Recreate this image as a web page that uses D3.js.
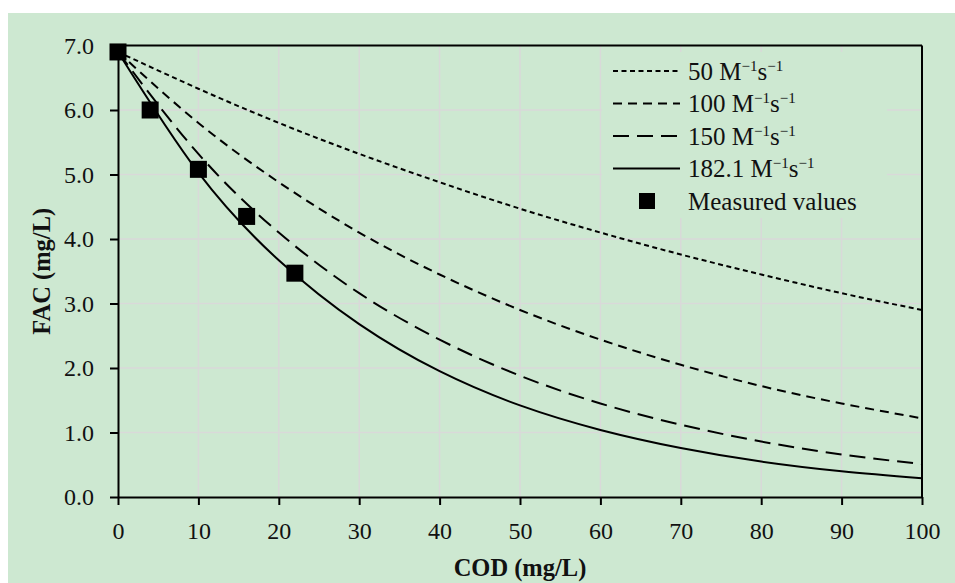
<!DOCTYPE html>
<html>
<head>
<meta charset="utf-8">
<script src="https://cdn.jsdelivr.net/npm/d3@7"></script>
<style>
  body { margin: 0; background: #fff; }
  svg { display: block; }
</style>
</head>
<body>
<div id="chart"></div>
<script>
// values
const cod = [0, 10, 20, 30, 40, 50, 60, 70, 80, 90, 100];
const fac50 = [6.90, 6.33, 5.80, 5.32, 4.88, 4.47, 4.10, 3.76, 3.45, 3.16, 2.90];
const fac100 = [6.90, 5.80, 4.88, 4.10, 3.45, 2.90, 2.44, 2.05, 1.72, 1.45, 1.22];
const fac150 = [6.90, 5.32, 4.10, 3.16, 2.44, 1.88, 1.45, 1.12, 0.86, 0.66, 0.51];
const fac182 = [6.90, 5.03, 3.67, 2.68, 1.95, 1.42, 1.04, 0.76, 0.55, 0.40, 0.29];
const seriesRates = ['50', '100', '150', '182.1'];

const measuredCod = [0, 4, 10, 16, 22];
const measuredFac = [6.90, 6.00, 5.08, 4.35, 3.47];

const xTicks = [0, 10, 20, 30, 40, 50, 60, 70, 80, 90, 100];
const yTicks = [0, 1, 2, 3, 4, 5, 6, 7];

const W = 955, H = 583;
const margin = { top: 45.5, right: 33, bottom: 86, left: 118 };
const width = W - margin.left - margin.right;
const height = H - margin.top - margin.bottom;
const font = "'Palatino Linotype', 'Book Antiqua', Palatino, 'Liberation Serif', serif";
const bg = '#cde8d1';

const svg = d3.select('#chart').append('svg')
  .attr('width', W)
  .attr('height', H);

svg.append('rect')
  .attr('x', 8).attr('y', 13)
  .attr('width', W - 8).attr('height', H - 13)
  .attr('fill', bg);

const g = svg.append('g').attr('transform', 'translate(' + margin.left + ',' + margin.top + ')');

const x = d3.scaleLinear().domain([0, 100]).range([0, width]);
const y = d3.scaleLinear().domain([0, 7]).range([height, 0]);

// grid
g.append('g').selectAll('line')
  .data(xTicks.slice(1, -1))
  .enter().append('line')
  .attr('x1', d => x(d)).attr('x2', d => x(d))
  .attr('y1', 0).attr('y2', height)
  .attr('stroke', '#d9d9d9').attr('stroke-width', 1.5);
g.append('g').selectAll('line')
  .data(yTicks.slice(1, -1))
  .enter().append('line')
  .attr('x1', 0).attr('x2', width)
  .attr('y1', d => y(d)).attr('y2', d => y(d))
  .attr('stroke', '#d9d9d9').attr('stroke-width', 1.5);

// model curves
const dashes = ['5,3.5', '9,6', '16,8', null];
const seriesValues = [fac50, fac100, fac150, fac182];
const line = d3.line()
  .x(d => x(d[0]))
  .y(d => y(d[1]))
  .curve(d3.curveNatural);

seriesValues.forEach(function(vals, i) {
  g.append('path')
    .datum(cod.map((c, j) => [c, vals[j]]))
    .attr('d', line)
    .attr('fill', 'none')
    .attr('stroke', '#000')
    .attr('stroke-width', 2)
    .attr('stroke-dasharray', dashes[i]);
});

// frame (top and right)
g.append('line').attr('x1', 0).attr('x2', width).attr('y1', 0).attr('y2', 0)
  .attr('stroke', '#000').attr('stroke-width', 2);
g.append('line').attr('x1', width).attr('x2', width).attr('y1', 0).attr('y2', height)
  .attr('stroke', '#000').attr('stroke-width', 2);

// axes
const xAxis = g.append('g')
  .attr('transform', 'translate(0,' + height + ')')
  .call(d3.axisBottom(x).tickValues(xTicks).tickSize(8).tickPadding(17).tickSizeOuter(0));
const yAxis = g.append('g')
  .call(d3.axisLeft(y).tickValues(yTicks).tickFormat(d3.format('.1f')).tickSize(8).tickPadding(16).tickSizeOuter(0));

[xAxis, yAxis].forEach(function(ax) {
  ax.attr('font-family', font).attr('font-size', 24);
  ax.select('.domain').attr('stroke-width', 2);
  ax.selectAll('.tick line').attr('stroke-width', 2);
  ax.selectAll('.tick text').attr('fill', '#111');
});

// legend
const legend = g.append('g').attr('transform', 'translate(' + (602 - margin.left) + ',' + (52 - margin.top) + ')');
legend.append('rect')
  .attr('width', 285).attr('height', 166)
  .attr('fill', bg);

const rowY = i => 19 + i * 32.5;
seriesRates.forEach(function(rate, i) {
  legend.append('line')
    .attr('x1', 11).attr('x2', 78)
    .attr('y1', rowY(i)).attr('y2', rowY(i))
    .attr('stroke', '#000').attr('stroke-width', 2)
    .attr('stroke-dasharray', dashes[i]);
  const t = legend.append('text')
    .attr('x', 86).attr('y', rowY(i) + 8.5)
    .attr('font-family', font).attr('font-size', 25).attr('fill', '#111');
  t.append('tspan').text(rate + ' M');
  t.append('tspan').attr('dy', -9).attr('font-size', 15).text('\u22121');
  t.append('tspan').attr('dy', 9).text('s');
  t.append('tspan').attr('dy', -9).attr('font-size', 15).text('\u22121');
});
legend.append('rect')
  .attr('x', 45 - 8).attr('y', rowY(4) - 8)
  .attr('width', 16).attr('height', 16)
  .attr('fill', '#000');
legend.append('text')
  .attr('x', 86).attr('y', rowY(4) + 8.5)
  .attr('font-family', font).attr('font-size', 25).attr('fill', '#111')
  .text('Measured values');

// measured points
g.append('g').selectAll('rect')
  .data(measuredCod.map((c, i) => [c, measuredFac[i]]))
  .enter().append('rect')
  .attr('x', d => x(d[0]) - 8.5)
  .attr('y', d => y(d[1]) - 8.5)
  .attr('width', 17).attr('height', 17)
  .attr('fill', '#000');

// axis titles
g.append('text')
  .attr('x', width / 2).attr('y', H - margin.top - 7)
  .attr('text-anchor', 'middle')
  .attr('font-family', font).attr('font-size', 24.5).attr('font-weight', 'bold').attr('fill', '#111')
  .text('COD (mg/L)');
g.append('text')
  .attr('transform', 'translate(' + (50 - margin.left) + ',' + (height / 2) + ') rotate(-90)')
  .attr('text-anchor', 'middle')
  .attr('font-family', font).attr('font-size', 24.5).attr('font-weight', 'bold').attr('fill', '#111')
  .text('FAC (mg/L)');
</script>
</body>
</html>
